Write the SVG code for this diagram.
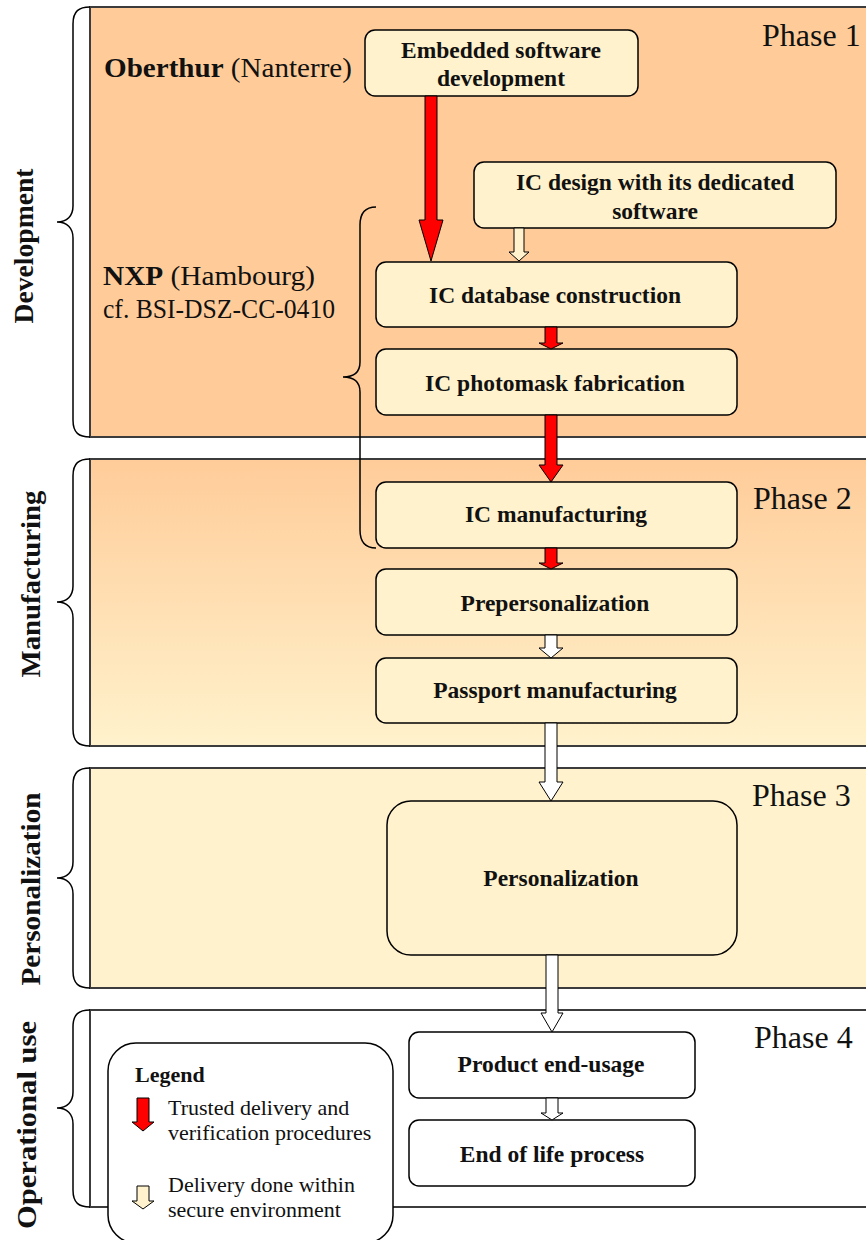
<svg xmlns="http://www.w3.org/2000/svg" width="866" height="1240" viewBox="0 0 866 1240">
<style>
.panel{stroke:#3c3c3c;stroke-width:2}
.brace{fill:none;stroke:#000;stroke-width:1.5}
.node{fill:#FFF2CC;stroke:#000;stroke-width:1.5}
.wnode{fill:#fff;stroke:#000;stroke-width:1.5}
.nt{font-family:"Liberation Serif","Times New Roman",serif;font-weight:bold;font-size:23.5px;fill:#111;text-anchor:middle}
.ph{font-family:"Liberation Serif","Times New Roman",serif;font-size:32px;fill:#111}
.side{font-family:"Liberation Serif","Times New Roman",serif;font-weight:bold;font-size:27px;fill:#111;text-anchor:middle}
.org{font-family:"Liberation Serif","Times New Roman",serif;font-size:28px;fill:#111}
.lg{font-family:"Liberation Serif","Times New Roman",serif;font-size:22px;fill:#111}
.red{fill:#FF0000;stroke:#000;stroke-width:1}
.wa{fill:#fff;stroke:#000;stroke-width:1}
.ya{fill:#FFF2CC;stroke:#000;stroke-width:1}
</style>
<defs>
<linearGradient id="g2" x1="0" y1="0" x2="0" y2="1">
<stop offset="0" stop-color="#FFCC99"/>
<stop offset="1" stop-color="#FFF2CC"/>
</linearGradient>
</defs>
<rect width="866" height="1240" fill="#fff"/>

<g id="phase1">
<rect class="panel" x="90" y="7" width="800" height="430" fill="#FFCC99"/>
<path class="brace" d="M90,7 C79,7 73,11 73,24 L73,206 C73,216 67,222 57,222 C67,222 73,228 73,238 L73,420 C73,433 79,437 90,437"/>
<text class="side" transform="translate(33,246) rotate(-90)" textLength="155" lengthAdjust="spacingAndGlyphs">Development</text>
<text class="ph" x="762" y="46">Phase 1</text>
<text class="org" x="104" y="77" textLength="248" lengthAdjust="spacingAndGlyphs"><tspan font-weight="bold">Oberthur</tspan> (Nanterre)</text>
<text class="org" x="103" y="285" textLength="212" lengthAdjust="spacingAndGlyphs"><tspan font-weight="bold">NXP</tspan> (Hambourg)</text>
<text class="org" x="103" y="318" font-size="25.5" textLength="232" lengthAdjust="spacingAndGlyphs">cf. BSI-DSZ-CC-0410</text>
</g>

<g id="phase2">
<rect class="panel" x="90" y="459" width="800" height="287" fill="url(#g2)"/>
<path class="brace" d="M90,459 C79,459 73,463 73,476 L73,586 C73,596 67,602 57,602 C67,602 73,608 73,618 L73,729 C73,742 79,746 90,746"/>
<text class="side" transform="translate(40,584) rotate(-90)" textLength="187" lengthAdjust="spacingAndGlyphs">Manufacturing</text>
<text class="ph" x="753" y="509">Phase 2</text>
</g>

<g id="phase3">
<rect class="panel" x="90" y="768" width="800" height="220" fill="#FFF2CC"/>
<path class="brace" d="M90,768 C79,768 73,772 73,785 L73,862 C73,872 67,878 57,878 C67,878 73,884 73,894 L73,971 C73,984 79,988 90,988"/>
<text class="side" transform="translate(40,889) rotate(-90)" textLength="193" lengthAdjust="spacingAndGlyphs">Personalization</text>
<text class="ph" x="752" y="806">Phase 3</text>
</g>

<g id="phase4">
<rect class="panel" x="90" y="1010" width="800" height="197" fill="#fff"/>
<path class="brace" d="M90,1010 C79,1010 73,1014 73,1027 L73,1092 C73,1102 67,1108 57,1108 C67,1108 73,1114 73,1124 L73,1190 C73,1203 79,1207 90,1207"/>
<text class="side" transform="translate(36,1125) rotate(-90)" textLength="208" lengthAdjust="spacingAndGlyphs">Operational use</text>
<text class="ph" x="754" y="1048">Phase 4</text>
</g>

<g id="nxp-brace">
<path class="brace" d="M376,207 C366,207 360,212 360,225 L360,362 C360,372 354,377 343,377 C354,377 360,382 360,392 L360,530 C360,543 366,548 376,548"/>
</g>

<g id="n-embedded">
<rect class="node" x="365" y="30" width="273" height="66" rx="10"/>
<text class="nt" x="501" y="58">Embedded software</text>
<text class="nt" x="501" y="86">development</text>
</g>
<g id="n-icdesign">
<rect class="node" x="474" y="162" width="362" height="66" rx="10"/>
<text class="nt" x="655" y="190">IC design with its dedicated</text>
<text class="nt" x="655" y="219">software</text>
</g>
<g id="n-icdb">
<rect class="node" x="376" y="262" width="361" height="65" rx="10"/>
<text class="nt" x="555" y="303">IC database construction</text>
</g>
<g id="n-photomask">
<rect class="node" x="376" y="349" width="361" height="66" rx="10"/>
<text class="nt" x="555" y="391">IC photomask fabrication</text>
</g>
<g id="n-icman">
<rect class="node" x="376" y="482" width="361" height="66" rx="10"/>
<text class="nt" x="556" y="522">IC manufacturing</text>
</g>
<g id="n-preperso">
<rect class="node" x="376" y="569" width="361" height="66" rx="10"/>
<text class="nt" x="555" y="611">Prepersonalization</text>
</g>
<g id="n-passport">
<rect class="node" x="376" y="658" width="361" height="65" rx="10"/>
<text class="nt" x="555" y="698">Passport manufacturing</text>
</g>
<g id="n-perso">
<rect class="node" x="387" y="801" width="350" height="154" rx="24"/>
<text class="nt" x="561" y="886">Personalization</text>
</g>
<g id="n-enduse">
<rect class="wnode" x="409" y="1032" width="286" height="66" rx="10"/>
<text class="nt" x="551" y="1072">Product end-usage</text>
</g>
<g id="n-eol">
<rect class="wnode" x="409" y="1120" width="286" height="66" rx="10"/>
<text class="nt" x="552" y="1162">End of life process</text>
</g>

<g id="connectors">
<polygon class="red" points="425,96 437,96 437,220 443,220 431,261 419,220 425,220"/>
<polygon class="ya" points="514,228 524,228 524,252 529,252 519,261 509,252 514,252"/>
<polygon class="red" points="545,327 557,327 557,343 563,343 551,349 539,343 545,343"/>
<polygon class="red" points="545,415 557,415 557,465 563,465 551,482 539,465 545,465"/>
<polygon class="red" points="545,548 557,548 557,563 563,563 551,569 539,563 545,563"/>
<polygon class="wa" points="545,635 557,635 557,648 563,648 551,658 539,648 545,648"/>
<polygon class="wa" points="545,723 557,723 557,782 563,782 551,801 539,782 545,782"/>
<polygon class="wa" points="546,955 558,955 558,1013 563,1013 552,1032 541,1013 546,1013"/>
<polygon class="wa" points="546,1098 558,1098 558,1113 563,1113 552,1120 541,1113 546,1113"/>
</g>

<g id="legend">
<rect x="108" y="1043" width="285" height="200" rx="28" fill="#fff" stroke="#000" stroke-width="1.5"/>
<text class="lg" x="135" y="1082" font-weight="bold" font-size="20.5">Legend</text>
<polygon class="red" points="137,1098 149,1098 149,1122 154,1122 143,1131 132,1122 137,1122"/>
<text class="lg" x="168" y="1115">Trusted delivery and</text>
<text class="lg" x="168" y="1140">verification procedures</text>
<polygon class="ya" points="137,1186 149,1186 149,1201 154,1201 143,1209 132,1201 137,1201"/>
<text class="lg" x="168" y="1192">Delivery done within</text>
<text class="lg" x="168" y="1217">secure environment</text>
</g>
</svg>
